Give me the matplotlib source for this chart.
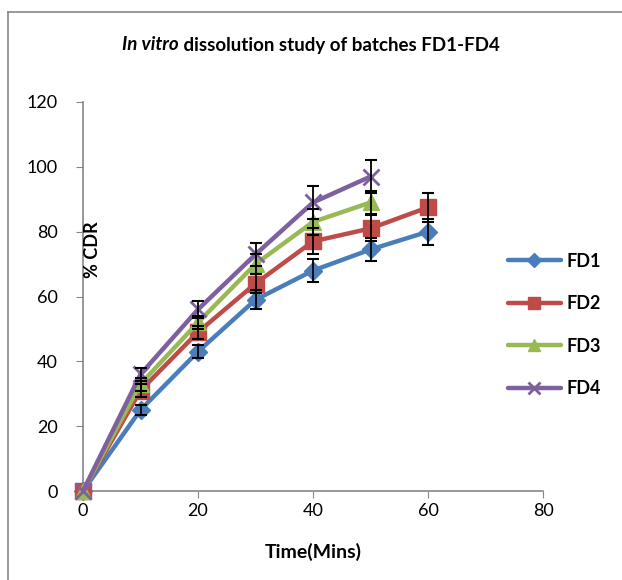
import matplotlib
matplotlib.use('Agg')
import matplotlib.pyplot as plt
from matplotlib.lines import Line2D

plt.rcParams['font.family'] = ['Lato', 'DejaVu Sans']

# data
time = [0, 10, 20, 30, 40, 50, 60]
fd1 = [0, 25, 43, 59, 68, 74.5, 80]
fd1_err = [0, 1.5, 2, 3, 3.5, 3.5, 4]
fd2 = [0, 31, 49, 64, 77, 81, 87.5]
fd2_err = [0, 2, 2, 3, 4, 4, 4.5]
fd3 = [0, 33, 52, 70, 83, 89]
fd3_err = [0, 2, 2, 3, 4, 3.5]
fd4 = [0, 36, 56, 73, 89, 97]
fd4_err = [0, 2, 2.5, 3.5, 5, 5]

names = ['FD1', 'FD2', 'FD3', 'FD4']
colors = ['#4A7EBB', '#BE4B48', '#98B954', '#7D60A0']
markers = ['D', 's', '^', 'x']
msizes = [9, 12, 12, 12]

W, H = 622, 580
fig = plt.figure(figsize=(W / 100, H / 100), dpi=100)
ax = fig.add_axes([83 / W, 1 - 491 / H, (543 - 83) / W, (491 - 102) / H])

series = [(fd1, fd1_err), (fd2, fd2_err), (fd3, fd3_err), (fd4, fd4_err)]
for (vals, err), c, m, ms in zip(series, colors, markers, msizes):
    x = time[:len(vals)]
    ax.plot(x, vals, color=c, lw=3.2, marker=m, ms=ms, mew=2 if m == 'x' else 1,
            mec=c, mfc=c, zorder=3, solid_capstyle='round', clip_on=False)
    keep = [i for i, e in enumerate(err) if e > 0]
    ax.errorbar([x[i] for i in keep], [vals[i] for i in keep],
                yerr=[err[i] for i in keep], fmt='none', ecolor='black',
                elinewidth=1.3, capsize=4, capthick=1.5, zorder=4)

ax.set_xlim(0, 80)
ax.set_ylim(0, 120)
ax.set_xticks(range(0, 81, 20))
ax.set_yticks(range(0, 121, 20))
ax.tick_params(labelsize=13, color='#868686', length=5, direction='out')
ax.tick_params(axis='y', pad=13)
for s in ['top', 'right']:
    ax.spines[s].set_visible(False)
for s in ['left', 'bottom']:
    ax.spines[s].set_color('#868686')
    ax.spines[s].set_linewidth(1.2)

fig.text(313 / W, 1 - 552 / H, 'Time(Mins)', ha='center', va='center',
         fontsize=14, fontweight='bold')
fig.text(93 / W, 1 - 250 / H, '% CDR', ha='center', va='center', rotation=90,
         fontsize=13, fontweight='bold')

# title: italic part + regular part
fig.canvas.draw()
r = fig.canvas.get_renderer()
t1 = fig.text(0, 1 - 45 / H, 'In vitro', fontsize=13.5, fontweight='bold',
              style='italic', va='center')
t2 = fig.text(0, 1 - 45 / H, ' dissolution study of batches FD1-FD4', fontsize=13.5,
              fontweight='bold', va='center')
w1 = t1.get_window_extent(r).width
w2 = t2.get_window_extent(r).width
x0 = 311 - (w1 + w2) / 2
t1.set_x(x0 / W)
t2.set_x((x0 + w1) / W)

handles = [Line2D([], [], color=c, lw=3.2, marker=m, ms=ms * 0.75, mec=c, mfc=c,
                  mew=2 if m == 'x' else 1, solid_capstyle='round')
           for c, m, ms in zip(colors, markers, msizes)]
leg = fig.legend(handles, names, loc='center left',
                 bbox_to_anchor=(492 / W, 1 - 325 / H), frameon=False,
                 handlelength=2.9, labelspacing=1.42, handletextpad=0.3,
                 prop={'weight': 'bold', 'size': 13})

# outer frame
fig.add_artist(Line2D([8 / W, 8 / W], [0, 1 - 12 / H], color='#868686', lw=1.2))
fig.add_artist(Line2D([8 / W, 1], [1 - 12 / H, 1 - 12 / H], color='#868686', lw=1.2))

fig.savefig('out.png', dpi=100)
